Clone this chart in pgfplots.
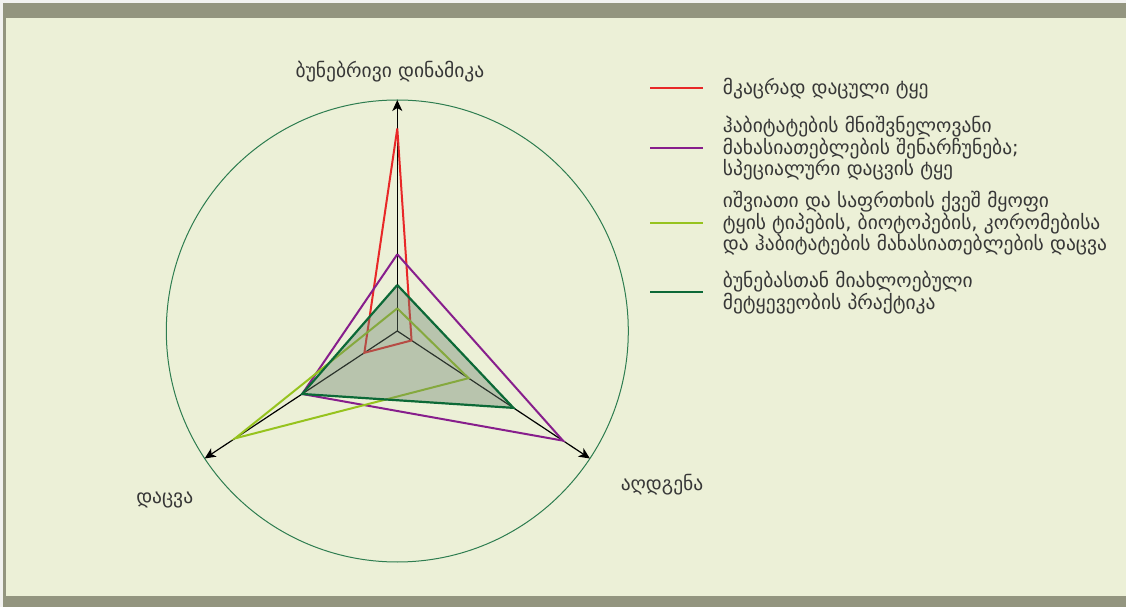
\documentclass[border=0pt]{standalone}
\usepackage{fontspec}
\setmainfont{DejaVu Sans}
\usepackage{pgfplots}
\pgfplotsset{compat=1.18}
\usepgfplotslibrary{polar}
\usetikzlibrary{arrows.meta}

\definecolor{edgec}{RGB}{242,242,240}
\definecolor{barc}{RGB}{147,149,127}
\definecolor{bgc}{RGB}{236,240,215}
\definecolor{circc}{RGB}{46,125,80}
\definecolor{txt}{RGB}{55,55,55}
\definecolor{redc}{RGB}{232,40,40}
\definecolor{purc}{RGB}{135,30,140}
\definecolor{limec}{RGB}{150,195,30}
\definecolor{dgreenc}{RGB}{12,105,55}
\definecolor{fillc}{RGB}{108,130,111}

\begin{document}
\begin{tikzpicture}[x=1pt,y=1pt]
% frame and background
\fill[edgec] (0,0) rectangle (1126,607);
\fill[barc] (3,0) rectangle (1126,604);
\fill[bgc] (6,11) rectangle (1126,589);

\begin{polaraxis}[
    at={(397.3pt,276pt)}, anchor=center,
    scale only axis, width=462pt, height=462pt,
    ymin=0, ymax=10,
    xtick=\empty, ytick=\empty,
    x axis line style={draw=circc, line width=1pt},
    y axis line style={draw=none},
    clip=false,
]
    % radial axes
    \addplot[black, line width=1.2pt, -{Stealth[length=11pt,width=10pt,inset=3pt]}] coordinates {(0,0) (90,10)};
    \addplot[black, line width=1.2pt, -{Stealth[length=11pt,width=10pt,inset=3pt]}] coordinates {(0,0) (213.5,10)};
    \addplot[black, line width=1.2pt, -{Stealth[length=11pt,width=10pt,inset=3pt]}] coordinates {(0,0) (-33.5,10)};

    % strictly protected forest
    \addplot[redc, line width=2pt] coordinates {(90,8.77) (-33.5,0.74) (213.5,1.71) (90,8.77)};
    % special protection forest
    \addplot[purc, line width=2pt] coordinates {(90,3.32) (-33.5,8.60) (213.5,4.94) (90,3.32)};
    % rare and threatened forest types
    \addplot[limec, line width=2pt] coordinates {(90,0.98) (-33.5,3.70) (213.5,8.42) (90,0.98)};
    % close-to-nature forestry
    \addplot[draw=none, fill=fillc, fill opacity=0.4] coordinates {(90,1.99) (-33.5,6.03) (213.5,4.94) (90,1.99)};
    \addplot[dgreenc, line width=2.2pt] coordinates {(90,1.99) (-33.5,6.03) (213.5,4.94) (90,1.99)};
\end{polaraxis}

% axis names
\begin{scope}[every node/.style={text=txt, font=\fontsize{19.5}{22}\selectfont, inner sep=0pt}]
\node at (390,535.3) {ბუნებრივი დინამიკა};
\node at (164.7,107) {დაცვა};
\node at (662,122.7) {აღდგენა};
\end{scope}

% legend
\begin{scope}[every node/.style={text=txt, font=\fontsize{19.5}{21.7}\selectfont, inner sep=0pt, anchor=west, align=left}]
\draw[redc, line width=2pt] (650,518.7) -- (703,518.7);
\node at (722.7,518.7) {მკაცრად დაცული ტყე};
\draw[purc, line width=2pt] (650,458.7) -- (703,458.7);
\node at (722.7,458.7) {ჰაბიტატების მნიშვნელოვანი\\მახასიათებლების შენარჩუნება;\\სპეციალური დაცვის ტყე};
\draw[limec, line width=2pt] (650,383.7) -- (703,383.7);
\node at (722.7,383.7) {იშვიათი და საფრთხის ქვეშ მყოფი\\ტყის ტიპების, ბიოტოპების, კორომებისა\\და ჰაბიტატების მახასიათებლების დაცვა};
\draw[dgreenc, line width=2pt] (650,314.7) -- (703,314.7);
\node at (722.7,314.7) {ბუნებასთან მიახლოებული\\მეტყევეობის პრაქტიკა};
\end{scope}
\end{tikzpicture}
\end{document}
